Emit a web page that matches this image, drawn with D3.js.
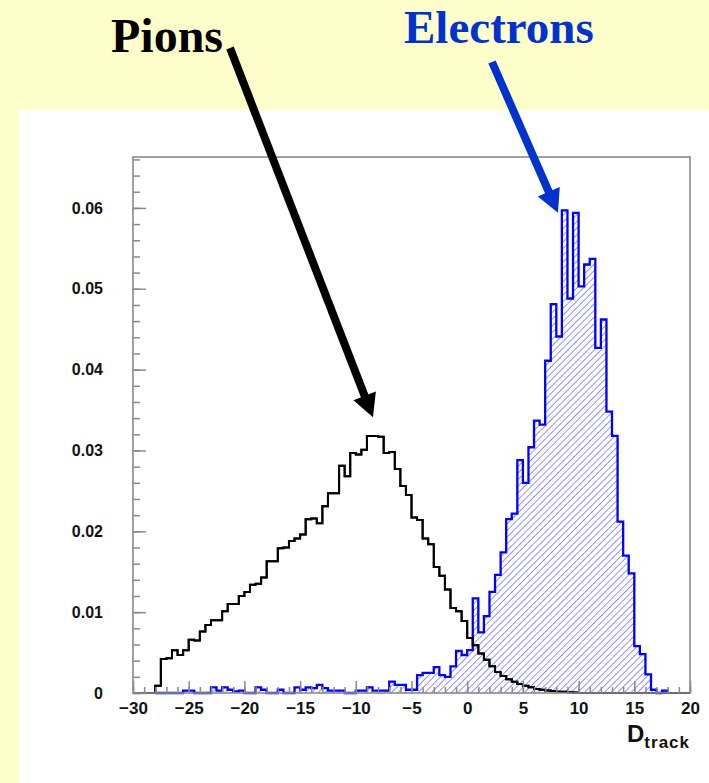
<!DOCTYPE html>
<html>
<head>
<meta charset="utf-8">
<script src="https://cdn.jsdelivr.net/npm/d3@7"></script>
<style>
  html, body { margin: 0; padding: 0; background: #ffffcc; }
  svg { display: block; }
</style>
</head>
<body>
<svg id="chart" width="709" height="783"></svg>
<script>
// Histogram binning: 100 bins of width 0.5 from -30 to 20
const binLow = -30;
const binWidth = 0.5;

// Normalised D_track distributions (bin contents)
const pions = [
  0, 0, 0, 0, 0.0009, 0.0042, 0.0043, 0.0053, 0.0047, 0.0053,
  0.0066, 0.0065, 0.0076, 0.0084, 0.0090, 0.0090, 0.0101, 0.0110, 0.0110, 0.0120,
  0.0125, 0.0134, 0.0135, 0.0143, 0.0163, 0.0163, 0.0179, 0.0180, 0.0188, 0.0191,
  0.0196, 0.0215, 0.0216, 0.0210, 0.0231, 0.0247, 0.0247, 0.0281, 0.0268, 0.0297,
  0.0295, 0.0301, 0.0318, 0.0318, 0.0317, 0.0297, 0.0298, 0.0277, 0.0256, 0.0245,
  0.0217, 0.0214, 0.0191, 0.0184, 0.0156, 0.0145, 0.0128, 0.0105, 0.0101, 0.0089,
  0.0068, 0.0059, 0.0049, 0.0041, 0.0033, 0.0026, 0.0021, 0.0017, 0.0014, 0.0011,
  0.0009, 0.0007, 0.0005, 0.0004, 0.0003, 0.00025, 0.00015, 0.00015, 0.0001, 0.00005,
  0, 0, 0, 0, 0, 0, 0, 0, 0, 0,
  0, 0, 0, 0, 0, 0, 0, 0, 0, 0
];

const electrons = [
  0, 0, 0, 0, 0, 0, 0, 0, 0, 0.0003,
  0.0003, 0, 0, 0, 0.0007, 0.0003, 0.0007, 0.0004, 0.0002, 0.0003,
  0, 0, 0.0007, 0.0004, 0, 0, 0.0004, 0, 0, 0.0007,
  0.0004, 0.0007, 0.0006, 0.0010, 0.0006, 0.0003, 0.0003, 0.0003, 0, 0,
  0.0003, 0.0003, 0.0007, 0.0003, 0.0003, 0.0003, 0.0014, 0.0010, 0.0010, 0.0004,
  0.0004, 0.0022, 0.0025, 0.0025, 0.0032, 0.0022, 0.0020, 0.0033, 0.0052, 0.0047,
  0.0053, 0.0117, 0.0075, 0.0095, 0.0125, 0.0146, 0.0174, 0.0215, 0.0222, 0.0288,
  0.0260, 0.0304, 0.0337, 0.0332, 0.0411, 0.0481, 0.0441, 0.0597, 0.0488, 0.0594,
  0.0503, 0.0530, 0.0537, 0.0427, 0.0462, 0.0348, 0.0318, 0.0212, 0.0170, 0.0148,
  0.0058, 0.0048, 0.0023, 0.0004, 0, 0.0003, 0, 0, 0, 0
];

const xTickLabels = [-30, -25, -20, -15, -10, -5, 0, 5, 10, 15, 20];
const yTickLabels = [0, 0.01, 0.02, 0.03, 0.04, 0.05, 0.06];

const svg = d3.select("#chart");
const W = 709, H = 783;

// Page background and white plot pad
svg.append("rect").attr("width", W).attr("height", H).attr("fill", "#ffffcc");
svg.append("rect").attr("x", 19).attr("y", 110).attr("width", W - 19).attr("height", H - 110).attr("fill", "#ffffff");

const x = d3.scaleLinear().domain([-30, 20]).range([133, 690]);
const y = d3.scaleLinear().domain([0, 0.0663]).range([693, 157]);

// Hatch pattern for the electron histogram
const defs = svg.append("defs");
const pat = defs.append("pattern")
  .attr("id", "hatch")
  .attr("patternUnits", "userSpaceOnUse")
  .attr("width", 4.7).attr("height", 4.7)
  .attr("patternTransform", "rotate(45)");
pat.append("line")
  .attr("x1", 0).attr("y1", -1).attr("x2", 0).attr("y2", 6)
  .attr("stroke", "#3a3aee").attr("stroke-width", 1.1);

// Step outline points for bins [i0, i1]
function stepPoints(values, i0, i1) {
  const pts = [[binLow + i0 * binWidth, 0]];
  for (let i = i0; i <= i1; i++) {
    const lo = binLow + i * binWidth;
    pts.push([lo, values[i]], [lo + binWidth, values[i]]);
  }
  pts.push([binLow + (i1 + 1) * binWidth, 0]);
  return pts;
}
const line = d3.line().x(d => x(d[0])).y(d => y(d[1]));
const area = d3.area().x(d => x(d[0])).y0(y(0)).y1(d => y(d[1]));

const plot = svg.append("g");

// Pion outline along the full axis range (baseline underneath)
plot.append("path")
  .attr("d", line(stepPoints(pions, 0, pions.length - 1)))
  .attr("fill", "none").attr("stroke", "#000").attr("stroke-width", 2)
  .attr("stroke-linejoin", "miter");

// Electron histogram: hatched fill and blue outline
const ePts = stepPoints(electrons, 4, 95);
plot.append("path").attr("d", area(ePts)).attr("fill", "url(#hatch)");
plot.append("path")
  .attr("d", line(ePts))
  .attr("fill", "none").attr("stroke", "#0000ff").attr("stroke-width", 2.3)
  .attr("stroke-linejoin", "miter");

// Pion outline over the populated bins, drawn on top
plot.append("path")
  .attr("d", line(stepPoints(pions, 4, 79)))
  .attr("fill", "none").attr("stroke", "#000").attr("stroke-width", 2)
  .attr("stroke-linejoin", "miter");

// Frame
svg.append("rect")
  .attr("x", x(-30)).attr("y", y(0.0663))
  .attr("width", x(20) - x(-30)).attr("height", y(0) - y(0.0663))
  .attr("fill", "none").attr("stroke", "#8a8a8a").attr("stroke-width", 1.6);

const axisFont = "'Liberation Sans', Arial, Helvetica, sans-serif";

// Y axis: major ticks with labels, minor ticks every 0.002
const yMajor = d3.axisLeft(y).tickValues(yTickLabels)
  .tickFormat(d => d === 0 ? "0" : d3.format(".2f")(d))
  .tickSizeInner(-13).tickSizeOuter(0).tickPadding(30);
const yMinor = d3.axisLeft(y).tickValues(d3.range(0, 0.0661, 0.002))
  .tickFormat("").tickSizeInner(-7).tickSizeOuter(0);
const gyMinor = svg.append("g").attr("transform", `translate(${x(-30)},0)`).call(yMinor);
const gy = svg.append("g").attr("transform", `translate(${x(-30)},0)`).call(yMajor);

// X axis: major ticks every 5, minor ticks every 1
const xMajor = d3.axisBottom(x).tickValues(xTickLabels)
  .tickFormat(d3.format("d"))
  .tickSizeInner(-12).tickSizeOuter(0).tickPadding(9);
const xMinor = d3.axisBottom(x).tickValues(d3.range(-30, 20.1, 1))
  .tickFormat("").tickSizeInner(-6).tickSizeOuter(0);
const gxMinor = svg.append("g").attr("transform", `translate(0,${y(0)})`).call(xMinor);
const gx = svg.append("g").attr("transform", `translate(0,${y(0)})`).call(xMajor);

[gy, gyMinor, gx, gxMinor].forEach(g => {
  g.select(".domain").remove();
  g.selectAll(".tick line").attr("stroke", "#8a8a8a").attr("stroke-width", 1.5);
});
gy.selectAll(".tick text")
  .attr("font-family", axisFont).attr("font-weight", "bold")
  .attr("font-size", 16).attr("fill", "#111");
gx.selectAll(".tick text")
  .attr("font-family", axisFont).attr("font-weight", "bold")
  .attr("font-size", 17).attr("fill", "#111");

// X axis title: D_track
const xt = svg.append("text")
  .attr("x", 690).attr("y", 742)
  .attr("text-anchor", "end")
  .attr("font-family", axisFont).attr("font-weight", "bold").attr("fill", "#111");
xt.append("tspan").attr("font-size", 24).text("D");
xt.append("tspan").attr("font-size", 17).attr("dy", 6).attr("letter-spacing", 1).text("track");

// Labels with arrows
const titleFont = "'Liberation Serif', 'Times New Roman', Times, serif";
svg.append("text").attr("x", 111).attr("y", 52)
  .attr("font-family", titleFont).attr("font-weight", "bold")
  .attr("font-size", 48).attr("fill", "#000").text("Pions");
svg.append("text").attr("x", 404).attr("y", 43)
  .attr("font-family", titleFont).attr("font-weight", "bold")
  .attr("font-size", 47).attr("fill", "#0033cc").text("Electrons");

function arrow(x0, y0, x1, y1, color) {
  const dx = x1 - x0, dy = y1 - y0, len = Math.hypot(dx, dy);
  const ux = dx / len, uy = dy / len, px = -uy, py = ux;
  const head = 23, half = 12;
  const bx = x1 - ux * head, by = y1 - uy * head;
  svg.append("line")
    .attr("x1", x0).attr("y1", y0).attr("x2", bx + ux * 2).attr("y2", by + uy * 2)
    .attr("stroke", color).attr("stroke-width", 8);
  svg.append("polygon")
    .attr("points", [[x1, y1], [bx + px * half, by + py * half], [bx - px * half, by - py * half]].map(p => p.join(",")).join(" "))
    .attr("fill", color);
}
// Arrow tips point at the histogram peaks (data coordinates)
arrow(230, 48, x(-8.46), y(0.0341), "#000");
arrow(492, 62, x(8.15), y(0.0594), "#0033cc");
</script>
</body>
</html>
